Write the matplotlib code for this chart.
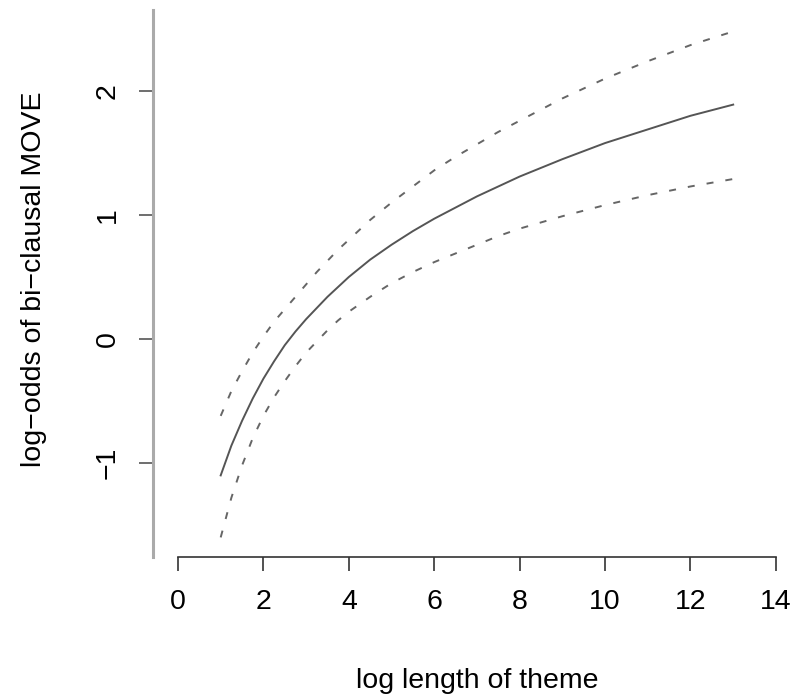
import matplotlib.pyplot as plt

plt.rcParams['font.family'] = ['Liberation Sans', 'DejaVu Sans']

# fitted log-odds with upper/lower confidence bounds, read at these theme lengths
length = [1, 1.25, 1.5, 1.75, 2, 2.25, 2.5, 2.75, 3, 3.25, 3.5, 3.75, 4, 4.5,
          5, 5.5, 6, 6.5, 7, 7.5, 8, 9, 10, 11, 12, 13]
fit = [-1.10, -0.86, -0.66, -0.48, -0.32, -0.18, -0.05, 0.06, 0.16, 0.25, 0.34,
       0.42, 0.50, 0.64, 0.76, 0.87, 0.97, 1.06, 1.15, 1.23, 1.31, 1.45, 1.58,
       1.69, 1.80, 1.89]
upper = [-0.62, -0.42, -0.26, -0.11, 0.02, 0.14, 0.24, 0.34, 0.44, 0.54, 0.63,
         0.72, 0.80, 0.96, 1.10, 1.23, 1.36, 1.47, 1.57, 1.67, 1.76, 1.94, 2.10,
         2.24, 2.37, 2.48]
lower = [-1.60, -1.28, -1.02, -0.80, -0.62, -0.47, -0.34, -0.22, -0.11, -0.02,
         0.07, 0.15, 0.22, 0.34, 0.45, 0.54, 0.62, 0.69, 0.76, 0.83, 0.89, 0.99,
         1.08, 1.16, 1.23, 1.29]

xticks = [0, 2, 4, 6, 8, 10, 12, 14]
yticks = [-1, 0, 1, 2]

fig = plt.figure(figsize=(8.1, 6.95), dpi=100)
ax = fig.add_axes([153 / 810, 138 / 695, 637 / 810, 547 / 695])

ax.plot(length, fit, color='#555555', lw=1.4)
ax.plot(length, upper, color='#666666', lw=1.4, dashes=(3.6, 6.2))
ax.plot(length, lower, color='#666666', lw=1.4, dashes=(3.6, 6.2))

ax.set_xlim(-0.585, 14.33)
ax.set_ylim(-1.758, 2.653)

ax.spines['top'].set_visible(False)
ax.spines['right'].set_visible(False)
ax.spines['left'].set_color('#aaaaaa')
ax.spines['left'].set_linewidth(2.2)
ax.spines['bottom'].set_color('#333333')
ax.spines['bottom'].set_linewidth(1.2)
ax.spines['bottom'].set_bounds(0, 14)

ax.set_xticks(xticks)
ax.set_yticks(yticks)
ax.set_yticklabels(['\u22121', '0', '1', '2'], rotation=90, va='center')
ax.tick_params(axis='x', length=10, width=1.2, color='#333333', pad=13, labelsize=20.5)
ax.tick_params(axis='y', length=10, width=1.2, color='#555555', pad=13, labelsize=20.5)

ax.set_xlabel('log length of theme', fontsize=20.5)
ax.set_ylabel('log\u2212odds of bi\u2212clausal MOVE', fontsize=20.5)
ax.xaxis.set_label_coords(0.509, -0.203)
ax.yaxis.set_label_coords(-0.166, 0.508)

fig.savefig('out.png', dpi=100)
